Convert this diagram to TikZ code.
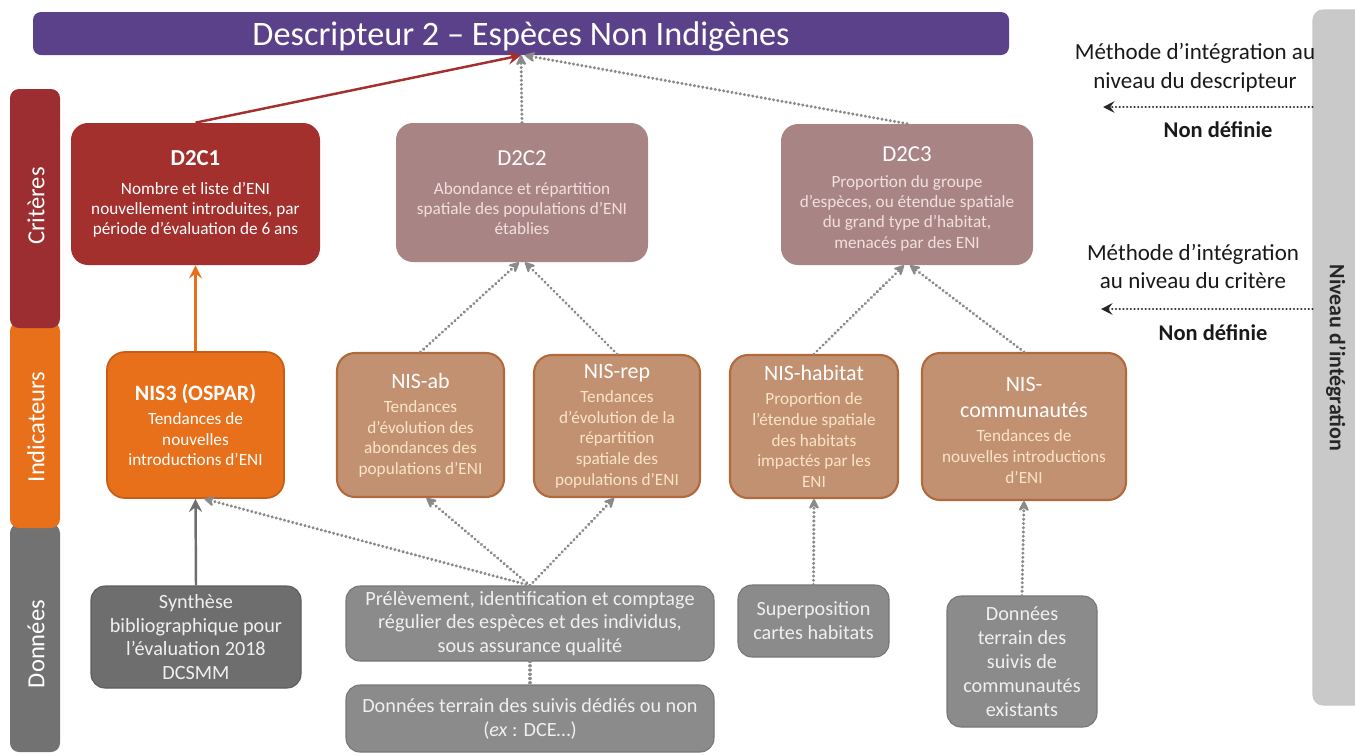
\documentclass[tikz,border=0pt]{standalone}
\usepackage{fontspec}
\setmainfont{Carlito}
\usetikzlibrary{arrows.meta,calc}
\definecolor{purp}{HTML}{5B4189}
\definecolor{redbar}{HTML}{9C2D31}
\definecolor{redbox}{HTML}{A3302D}
\definecolor{orng}{HTML}{E8701B}
\definecolor{mauve}{HTML}{A88584}
\definecolor{mauvetxt}{HTML}{F2E0DE}
\definecolor{tan}{HTML}{C29172}
\definecolor{tanborder}{HTML}{B06A3C}
\definecolor{tantxt}{HTML}{FAE4C8}
\definecolor{gdark}{HTML}{6E6E6E}
\definecolor{gmid}{HTML}{8B8B8B}
\definecolor{gbar}{HTML}{727272}
\definecolor{glight}{HTML}{C9C9C9}
\definecolor{dotg}{HTML}{8A8A8A}
\newcommand\FntTitle{\fontsize{19.5}{22}\selectfont}
\newcommand\FntSide{\fontsize{14}{16}\selectfont}
\newcommand\FntCritT{\fontsize{13}{15}\selectfont\bfseries}
\newcommand\FntCrit{\fontsize{9.8}{11.5}\selectfont}
\newcommand\FntIndT{\fontsize{12.5}{15}\selectfont}
\newcommand\FntInd{\fontsize{9.8}{11.8}\selectfont}
\newcommand\FntDat{\fontsize{11.5}{13.6}\selectfont}
\newcommand\FntRight{\fontsize{13.1}{15.3}\selectfont}
\newcommand\FntRightB{\fontsize{12.8}{15}\selectfont\bfseries}
\begin{document}
\begin{tikzpicture}[x=0.02cm,y=-0.02cm,
  sz/.style 2 args={minimum width=#1*0.02cm, minimum height=#2*0.02cm},
  base/.style={inner sep=0pt, align=center},
  sidebar/.style={base, rounded corners=0.18cm, text=white, font=\FntSide},
  critbox/.style={base, rounded corners=0.34cm, font=\FntCrit},
  indbox/.style={base, rounded corners=0.36cm, font=\FntInd},
  tanbox/.style={indbox, fill=tan, draw=tanborder, line width=1.2pt, text=tantxt},
  datbox/.style={base, rounded corners=0.28cm, font=\FntDat, text=white!94!black},
  dotarrow/.style={draw=dotg, line width=1.9pt, dash pattern=on 0.01pt off 2.4pt, line cap=round,
    -{Stealth[length=7.5pt,width=7.5pt,inset=2.8pt,round]}},
  dotplain/.style={draw=dotg, line width=1.9pt, dash pattern=on 0.01pt off 2.4pt, line cap=round},
  solidarrow/.style={line width=1.4pt, -{Stealth[length=7.5pt,width=7.5pt,inset=2.8pt]}},
  blackdot/.style={draw=black!85, line width=1.4pt, dash pattern=on 0.01pt off 2.1pt, line cap=round,
    -{Stealth[length=6.5pt,width=6.5pt,inset=2.4pt]}},
  righttext/.style={base, font=\FntRight, text=black!90},
  rightbold/.style={base, font=\FntRightB, text=black!90}
]
\useasboundingbox (0,0) rectangle (1355,755);

% right bar
\node[base, sz={52}{695}, rounded corners=0.2cm, fill=glight, draw=black!22, line width=0.6pt] (niv) at (1339,357.5) {};
\node[base, rotate=-90, font=\fontsize{12.5}{14}\selectfont\bfseries, text=black!85] (nivt) at (1336,358) {Niveau d’intégration};

% title
\node[base, sz={976}{43}, rounded corners=0.16cm, fill=purp] (title) at (521,33.5) {};
\node[base, text=white, font=\FntTitle] (titlet) at (521,36.5) {Descripteur 2 – Espèces Non Indigènes};

% side bars
\node[sidebar, sz={50}{228}, fill=gbar] (barD) at (35,638) {};
\node[sidebar, sz={50}{206}, fill=orng] (barI) at (35,425) {};
\node[sidebar, sz={50}{239}, fill=redbar] (barC) at (35,208.5) {};
\node[base, rotate=90, text=white, font=\FntSide] (tC) at (36,206) {Critères};
\node[base, rotate=90, text=white, font=\FntSide] (tI) at (36,427) {Indicateurs};
\node[base, rotate=90, text=white, font=\FntSide] (tD) at (36,644) {Données};

% criteria
\node[critbox, sz={249}{142}, fill=redbox, text=white] (d2c1) at (195.5,194)
  {{\FntCritT D2C1}\\[5pt]Nombre et liste d’ENI\\nouvellement introduites, par\\période d’évaluation de 6 ans};
\node[critbox, sz={252}{139}, fill=mauve, text=mauvetxt] (d2c2) at (522,192.5)
  {{\FntCritT\mdseries\color{white} D2C2}\\[5pt]Abondance et répartition\\spatiale des populations d’ENI\\établies};
\node[critbox, sz={252}{141}, fill=mauve] (d2c3) at (907,194.5) {};
\node[base, font=\FntCrit, text=mauvetxt] (d2c3t) at (907,199)
  {{\FntCritT\mdseries\color{white} D2C3}\\[3pt]Proportion du groupe\\d'espèces, ou étendue spatiale\\du grand type d'habitat,\\menacés par des ENI};

% indicators
\node[indbox, sz={177}{146}, fill=orng, draw=orng!85!black, line width=1pt, text=white] (nis3) at (195.5,425)
  {{\FntIndT\bfseries NIS3 (OSPAR)}\\[2pt]Tendances de\\nouvelles\\introductions d’ENI};
\node[tanbox, sz={167}{144}] (nisab) at (420.5,425)
  {{\FntIndT\color{white} NIS-ab}\\[2pt]Tendances\\d’évolution des\\abondances des\\populations d’ENI};
\node[tanbox, sz={166}{142}] (nisrep) at (617,426)
  {{\FntIndT\color{white} NIS-rep}\\[2pt]Tendances\\d’évolution de la\\répartition\\spatiale des\\populations d’ENI};
\node[tanbox, sz={168}{143}] (nishab) at (814,426.5)
  {{\FntIndT\color{white} NIS-habitat}\\[2pt]Proportion de\\l’étendue spatiale\\des habitats\\impactés par les\\ENI};
\node[tanbox, sz={204}{147}] (niscom) at (1024,426.5) {};
\node[base, font=\FntInd, text=tantxt] (niscomt) at (1024,430.5)
  {{\FntIndT\color{white} NIS-}\\[3pt]{\FntIndT\color{white} communautés}\\[2pt]Tendances de\\nouvelles introductions\\d’ENI};

% data
\node[datbox, sz={210}{102}, fill=gdark, draw=gdark!85!black, line width=0.6pt] (syn) at (196,637)
  {Synthèse\\bibliographique pour\\l’évaluation 2018\\DCSMM};
\node[datbox, sz={368}{75}, fill=gmid, draw=gmid!85!black, line width=0.6pt] (prel) at (530,623.5)
  {Prélèvement, identification et comptage\\régulier des espèces et des individus,\\sous assurance qualité};
\node[datbox, sz={368}{67}, fill=gmid, draw=gmid!85!black, line width=0.6pt] (dterr) at (530,718.5)
  {Données terrain des suivis dédiés ou non\\(\textit{ex} : DCE…)};
\node[datbox, sz={151}{72}, fill=gmid, draw=gmid!85!black, line width=0.6pt] (sup) at (813.5,621)
  {Superposition\\cartes habitats};
\node[datbox, sz={150}{131}, fill=gmid, draw=gmid!85!black, line width=0.6pt] (dcom) at (1022,661.5)
  {Données\\terrain des\\suivis de\\communautés\\existants};

% right texts
\node[righttext] (m1) at (1195,68) {Méthode d’intégration au\\[1pt]niveau du descripteur};
\node[rightbold] (nd1) at (1218,130) {Non définie};
\node[righttext] (m2) at (1193,266.5) {Méthode d’intégration\\[1pt]au niveau du critère};
\node[rightbold] (nd2) at (1213,333) {Non définie};
\coordinate (a1) at (1103,107);
\coordinate (a2) at (1101,309);
\draw[blackdot] (niv.west |- a1) -- (a1);
\draw[blackdot] (niv.west |- a2) -- (a2);

% connectors criteria -> descriptor
\draw[solidarrow, draw=redbox] (d2c1.north) -- (title.south);
\draw[dotarrow] (d2c2.north) -- (title.south);
\draw[dotarrow] (d2c3.north) -- ($(title.south)+(4,0)$);

% indicators -> criteria
\draw[solidarrow, draw=orng] (nis3.north) -- (d2c1.south);
\draw[dotarrow] (nisab.north) -- ($(d2c2.south)+(-3,0)$);
\draw[dotarrow] (nisrep.north) -- ($(d2c2.south)+(3,0)$);
\draw[dotarrow] (nishab.north) -- ($(d2c3.south)+(-3,0)$);
\draw[dotarrow] (niscom.north) -- ($(d2c3.south)+(3,0)$);

% data -> indicators
\draw[solidarrow, draw=gdark] (syn.north) -- (nis3.south);
\draw[dotarrow] (prel.north) -- ($(nis3.south)+(9,0)$);
\draw[dotarrow] (prel.north) -- ($(nisab.south)+(6,0)$);
\draw[dotarrow] (prel.north) -- ($(nisrep.south)+(-3,0)$);
\draw[dotplain] (prel.south) -- (dterr.north);
\draw[dotarrow] (sup.north) -- (nishab.south);
\draw[dotarrow] (dcom.north) -- (niscom.south);
\end{tikzpicture}
\end{document}
